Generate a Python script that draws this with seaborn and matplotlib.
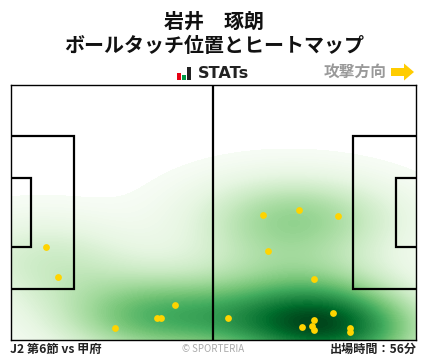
import matplotlib
matplotlib.use("Agg")
import matplotlib.pyplot as plt
from matplotlib.patches import Rectangle, FancyArrow
import seaborn as sns
import pandas as pd

touch_x = [9.15, 12.26, 27.04, 37.93, 38.97, 42.6, 65.4, 74.75, 84.85, 66.7,
           78.6, 56.3, 83.6, 78.6, 75.5, 78.1, 78.6, 88.0, 88.0]
touch_y = [24.7, 16.7, 3.1, 5.8, 5.8, 9.25, 33.25, 34.6, 33.0, 23.65,
           16.2, 5.8, 7.1, 5.25, 3.4, 3.65, 2.6, 3.1, 2.05]
title_lines = "岩井　琢朗\nボールタッチ位置とヒートマップ"
footer_left = "J2 第6節 vs 甲府"
footer_right = "出場時間：56分"
PITCH_L, PITCH_W = 105, 68

sns.set_theme(style="white")
plt.rcParams['font.family'] = ['Noto Sans CJK JP', 'DejaVu Sans']
W, H = 428, 359
fig = plt.figure(figsize=(W/100, H/100), dpi=100)
ax = fig.add_axes([10.5/W, 1-340/H, 405.5/W, 255.5/H])
df = pd.DataFrame({"x": touch_x, "y": touch_y})
sns.kdeplot(data=df, x="x", y="y", fill=True, cmap="Greens", levels=120, thresh=0.02,
            bw_adjust=1.05, gridsize=300, cut=6, ax=ax, zorder=1)
LW = 1.6
def box(x, y, w, h):
    ax.add_patch(Rectangle((x, y), w, h, fill=False, ec="black", lw=LW, zorder=3, clip_on=True))
box(-3, 13.6, 19.4, 40.8)
box(-3, 24.8, 8.3, 18.4)
box(PITCH_L-16.4, 13.6, 19.4, 40.8)
box(PITCH_L-5.3, 24.8, 8.3, 18.4)
ax.axvline(PITCH_L/2, color="black", lw=LW, zorder=3)
sns.scatterplot(data=df, x="x", y="y", color="#ffd400", s=24, linewidth=0, ax=ax, zorder=4)
ax.set_xlim(0, PITCH_L)
ax.set_ylim(0, PITCH_W)
ax.set_xticks([]); ax.set_yticks([]); ax.set_xlabel(""); ax.set_ylabel("")
for s in ax.spines.values():
    s.set_visible(True); s.set_color("black"); s.set_linewidth(1.0); s.set_zorder(5)

def T(px, py, s, **k):
    fig.text(px/W, 1-py/H, s, **k)
T(214, 33.5, title_lines, ha="center", va="center", fontsize=14.4, fontweight="bold",
  color="#111111", linespacing=1.2)
T(223.5, 73.5, "STATs", ha="center", va="center", fontsize=11.6, fontweight="bold",
  color="#222222", family="DejaVu Sans")
T(355, 72, "攻撃方向", ha="center", va="center", fontsize=11.3, fontweight="bold", color="#999999")
T(10, 349.5, footer_left, ha="left", va="center", fontsize=8.8, fontweight="bold", color="#222222")
T(417, 349.5, footer_right, ha="right", va="center", fontsize=8.7, fontweight="bold", color="#222222")
T(213, 348.5, "© SPORTERIA", ha="center", va="center", fontsize=7, color="#aaaaaa")

for x0, h, c in [(177, 7, "#e60012"), (182, 5, "#009944"), (187, 13, "#222222")]:
    fig.add_artist(Rectangle((x0/W, 1-80/H), 4/W, h/H, transform=fig.transFigure, fc=c, ec="none"))
fig.add_artist(FancyArrow(391/W, 1-72/H, 23/W, 0, width=8/H, head_width=17/H, head_length=10/W,
                          length_includes_head=True, transform=fig.transFigure, fc="#ffcc00", ec="none"))
fig.savefig("out.png", dpi=100)
